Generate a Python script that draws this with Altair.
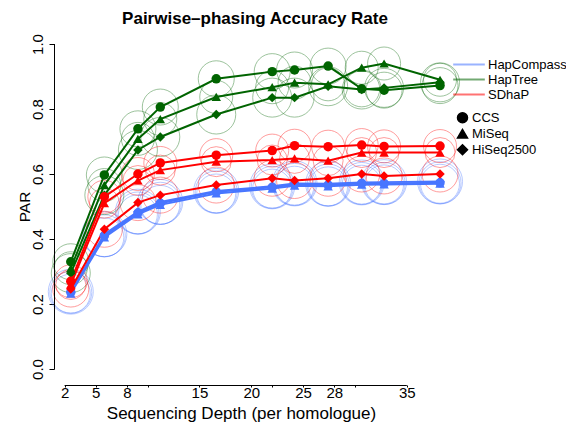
import altair as alt
import pandas as pd

# ---------------- data ----------------
depths = [2, 5, 8, 10, 15, 20, 22, 25, 28, 30, 35]
axis_ticks = [2, 5, 8, 10, 15, 20, 22, 25, 28, 30, 35]
axis_labels_shown = [2, 5, 8, 15, 20, 25, 28, 35]
y_ticks = [0.0, 0.2, 0.4, 0.6, 0.8, 1.0]

methods = ["HapCompass", "HapTree", "SDhaP"]
method_colors = ["#4876FF", "#006400", "#FF0000"]
datasets = ["CCS", "MiSeq", "HiSeq2500"]
dataset_shapes = ["circle", "triangle-up", "diamond"]

hapcompass_ccs = [0.236, 0.410, 0.480, 0.510, 0.545, 0.559, 0.568, 0.566, 0.571, 0.571, 0.573]
hapcompass_miseq = [0.232, 0.405, 0.476, 0.505, 0.540, 0.555, 0.564, 0.562, 0.567, 0.568, 0.570]
hapcompass_hiseq = [0.238, 0.415, 0.484, 0.514, 0.548, 0.562, 0.571, 0.570, 0.574, 0.575, 0.577]

haptree_ccs = [0.330, 0.597, 0.739, 0.806, 0.893, 0.915, 0.920, 0.932, 0.862, 0.858, 0.872]
haptree_miseq = [0.310, 0.566, 0.708, 0.769, 0.837, 0.867, 0.881, 0.876, 0.927, 0.940, 0.890]
haptree_hiseq = [0.295, 0.535, 0.674, 0.714, 0.783, 0.835, 0.835, 0.870, 0.860, 0.865, 0.882]

sdhap_ccs = [0.270, 0.530, 0.600, 0.634, 0.658, 0.672, 0.687, 0.684, 0.689, 0.685, 0.686]
sdhap_miseq = [0.260, 0.510, 0.580, 0.612, 0.638, 0.643, 0.648, 0.641, 0.666, 0.666, 0.666]
sdhap_hiseq = [0.246, 0.430, 0.512, 0.535, 0.566, 0.587, 0.580, 0.587, 0.600, 0.594, 0.600]

# radius (px) of the open halo circles drawn around each point
method_halo_radius = [21, 18, 16.5]
dataset_halo_delta = [0, -1.5, 1.5]

series = {
    ("HapCompass", "CCS"): hapcompass_ccs,
    ("HapCompass", "MiSeq"): hapcompass_miseq,
    ("HapCompass", "HiSeq2500"): hapcompass_hiseq,
    ("HapTree", "CCS"): haptree_ccs,
    ("HapTree", "MiSeq"): haptree_miseq,
    ("HapTree", "HiSeq2500"): haptree_hiseq,
    ("SDhaP", "CCS"): sdhap_ccs,
    ("SDhaP", "MiSeq"): sdhap_miseq,
    ("SDhaP", "HiSeq2500"): sdhap_hiseq,
}

rows = []
for (m, d), vals in series.items():
    r = method_halo_radius[methods.index(m)] + dataset_halo_delta[datasets.index(d)]
    for x, v in zip(depths, vals):
        rows.append({"depth": x, "par": v, "method": m, "dataset": d,
                     "series": m + "-" + d, "halo": (2 * r) ** 2})
df = pd.DataFrame(rows)

FONT = "Liberation Sans"

# ---------------- layout ----------------
W, H = 414, 325
X_DOMAIN = [0.5, 37.5]
PX_PER_UNIT = W / (X_DOMAIN[1] - X_DOMAIN[0])
# the original's depth axis is drawn on its own (slightly narrower) scale
AXIS_PX_START = 10.6      # px from the plot's left edge where the axis' "2" sits
AXIS_PX_PER_UNIT = 10.37  # px per depth unit on that axis
AXIS_OFFSET = 16


def axis_pos(label):
    return X_DOMAIN[0] + (AXIS_PX_START + (label - axis_ticks[0]) * AXIS_PX_PER_UNIT) / PX_PER_UNIT


axis_values = [axis_pos(t) for t in axis_ticks]
label_num = (f"round(((datum.value - {X_DOMAIN[0]}) * {PX_PER_UNIT} - {AXIS_PX_START}) "
             f"/ {AXIS_PX_PER_UNIT} + {axis_ticks[0]})")
shown = ",".join(str(v) for v in axis_labels_shown)
label_expr = f"indexof([{shown}], {label_num}) >= 0 ? '' + {label_num} : ''"

xs = alt.Scale(domain=X_DOMAIN, nice=False, zero=False)
ys = alt.Scale(domain=[0, 1], nice=False, zero=False)

color_enc = alt.Color(
    "method:N",
    scale=alt.Scale(domain=methods, range=method_colors),
    legend=alt.Legend(
        title=None, orient="none", legendX=398, legendY=13,
        symbolType="stroke", symbolSize=1000, symbolStrokeWidth=2,
        labelFontSize=13, labelFont=FONT, labelColor="black",
        labelOffset=2, clipHeight=15, rowPadding=0,
    ),
)

x_enc = alt.X(
    "depth:Q", scale=xs,
    axis=alt.Axis(
        orient="bottom", offset=AXIS_OFFSET, values=axis_values, grid=False, domain=False,
        tickColor="black", labelColor="black", titleColor="black",
        titleFontWeight="normal", labelFont=FONT, titleFont=FONT,
        labelExpr=label_expr, labelFlush=False, tickSize=2, labelPadding=-2,
        labelFontSize=15, labelOverlap=False,
        title="Sequencing Depth (per homologue)", titleFontSize=17,
        titleX=187, titleY=33, titleBaseline="alphabetic",
    ),
)
y_enc = alt.Y(
    "par:Q", scale=ys,
    axis=alt.Axis(
        values=y_ticks, format=".1f", title="PAR", grid=False,
        domain=True, ticks=True, domainWidth=1, tickWidth=1,
        domainColor="black", tickColor="black", labelColor="black",
        titleColor="black", titleFontWeight="normal",
        labelFont=FONT, titleFont=FONT,
        labelAngle=270, labelAlign="center", labelBaseline="bottom",
        labelPadding=4, tickSize=5, titlePadding=-2, titleFontSize=15.5,
        labelFontSize=15,
    ),
)

base = alt.Chart(df)

halos = base.mark_point(shape="circle", filled=False, strokeWidth=0.7, opacity=0.55).encode(
    x=x_enc, y=y_enc, color=color_enc,
    size=alt.Size("halo:Q", scale=None, legend=None),
    detail="series:N",
)

lines = base.mark_line(strokeWidth=2).encode(
    x=x_enc, y=y_enc, color=color_enc, detail="series:N",
)

points = base.mark_point(filled=True, size=90, opacity=1).encode(
    x=x_enc, y=y_enc, color=color_enc,
    shape=alt.Shape(
        "dataset:N",
        scale=alt.Scale(domain=datasets, range=dataset_shapes),
        legend=alt.Legend(
            title=None, orient="none", legendX=402, legendY=66,
            symbolFillColor="black", symbolStrokeColor="black", symbolSize=100,
            labelFontSize=13, labelFont=FONT, labelColor="black",
            labelOffset=3, rowPadding=0, clipHeight=15.5,
        ),
    ),
)

# R-style axis lines: y from 0 to 1, depth axis from first to last tick
y_axis_line = alt.Chart(pd.DataFrame({"lo": [y_ticks[0]], "hi": [y_ticks[-1]]})).mark_rule(
    color="black", strokeWidth=1
).encode(x=alt.value(0.5), y=alt.Y("lo:Q", scale=ys), y2="hi:Q")

x_axis_line = alt.Chart(pd.DataFrame({"lo": [axis_values[0]], "hi": [axis_values[-1]]})).mark_rule(
    color="black", strokeWidth=1
).encode(x=alt.X("lo:Q", scale=xs), x2="hi:Q", y=alt.value(H + AXIS_OFFSET + 0.5))

chart = (
    alt.layer(halos, lines, points, y_axis_line, x_axis_line)
    .properties(
        width=W, height=H,
        background="white",
        autosize=alt.AutoSizeParams(type="none"),
        padding={"left": 54, "top": 44, "right": 98, "bottom": 54},
        title=alt.TitleParams(
            "Pairwise\u2013phasing Accuracy Rate", fontSize=17, fontWeight="bold",
            font=FONT, anchor="middle", frame="group", dx=-6, dy=17, offset=10,
            baseline="alphabetic", color="black",
        ),
    )
    .configure_view(stroke=None)
    .configure_axis(
        grid=False, labelFont=FONT, titleFont=FONT, labelColor="black",
        titleColor="black", domainColor="black", tickColor="black",
        titleFontWeight="normal", domainWidth=1, tickWidth=1,
    )
)

chart.save("out.html", embed_options={"renderer": "svg", "actions": False})
